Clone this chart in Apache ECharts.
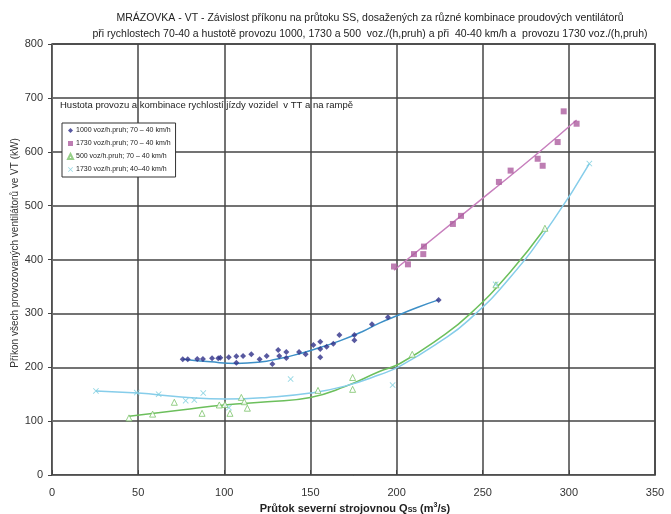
<!DOCTYPE html>
<html>
<head>
<meta charset="utf-8">
<script src="https://cdn.jsdelivr.net/npm/echarts@6/dist/echarts.min.js"></script>
<style>
html,body{margin:0;padding:0;background:#fff;}
#chart{width:671px;height:514px;}
</style>
</head>
<body>
<div id="chart"></div>
<script>
// legend names
var names = ['1000 voz/h.pruh; 70 – 40 km/h', '1730 voz/h.pruh; 70 – 40 km/h', '500 voz/h.pruh; 70 – 40 km/h', '1730 voz/h.pruh; 40–40 km/h'];

// measured points [Q, P]
var pts1000 = [[75.9,214.7],[78.8,214.7],[84.3,215.3],[87.6,215.3],[92.9,216.6],[96.5,216.6],[97.7,217.7],[102.6,218.4],
    [107,220.3],[107,208.4],[110.9,220.9],[115.7,224],[120.5,214.7],[124.6,220.9],[127.9,206],[131.3,232],[131.9,220.9],
    [136,228.3],[136,217.1],[143.4,228.3],[147.2,224],[151.7,241.3],[155.7,247.4],[155.7,233.9],[155.7,218.4],
    [159.4,238.1],[163.3,243.7],[166.8,259.8],[175.5,260],[175.5,250],[185.7,280],[195,293],[224.4,325]];
var pts1730 = [[198.5,387],[206.6,391],[210.1,410],[215.5,410],[215.9,424],[232.7,466],[237.4,481],[259.4,544],
    [266.2,565],[281.9,587],[284.8,574],[293.5,618],[297,675],[304.5,652]];
var pts500 = [[44.7,106],[58.4,113],[71,135],[87.1,114.5],[97.1,130],[100.4,131],[103.3,114.5],[109.9,144],
    [111.6,136],[113.4,124],[154.4,157],[174.5,181],[174.5,159],[209.1,224],[257.7,353],[286.1,458]];
var pts4040 = [[25.5,156],[49.2,153],[61.9,150],[77.6,138],[82.6,139],[87.8,152],[102.7,125],[138.5,178],
    [197.7,167],[257.5,354],[311.9,578]];

// trend lines
var trend1000 = [[76,215],[92,210],[107,207],[122,210],[130,215],[140,222],[152,233],[167,249],[180,266],[190,282],[202,298],[212,311],[224.4,325]];
var trend1730 = [[198.5,380],[254,524],[283,600],[304.5,659]];
var trend500 = [[44.7,109],[75,120.5],[100,130],[125,136],[150,144],[170,164],[190,192],[202,207],[225,254],[243,300],[266,377],[286.1,458]];
var trend4040 = [[25.5,156],[50,152],[75,145],[101,141],[125,144],[150,152],[170,165],[190,186],[202,202],[225,247],[242,288],[266,367],[291,473],[311.9,578]];

var xTicks = [0, 350, 50];
var yTicks = [0, 800, 100];

var chart = echarts.init(document.getElementById('chart'));
var crossPath = 'path://M0,1L1,0L5,4L9,0L10,1L6,5L10,9L9,10L5,6L1,10L0,9L4,5Z';
var fnt = 'Liberation Sans, Arial, sans-serif';

function trendLine(data, color) {
    return {
        type: 'line', data: data, smooth: true, showSymbol: false, silent: true,
        lineStyle: {color: color, width: 1.5}, z: 1
    };
}

var option = {
    animation: false,
    backgroundColor: '#fff',
    textStyle: {fontFamily: fnt},
    title: {
        text: 'MRÁZOVKA - VT - Závislost příkonu na průtoku SS, dosažených za různé kombinace proudových ventilátorů\npři rychlostech 70-40 a hustotě provozu 1000, 1730 a 500  voz./(h,pruh) a při  40-40 km/h a  provozu 1730 voz./(h,pruh)',
        left: 365, top: 5, textAlign: 'center',
        textStyle: {fontSize: 10.5, fontWeight: 'normal', color: '#222', lineHeight: 16, fontFamily: fnt}
    },
    legend: {
        data: names,
        orient: 'vertical',
        left: 62, top: 123,
        backgroundColor: '#fff',
        borderColor: '#333', borderWidth: 1,
        padding: [4, 5, 4, 5],
        itemWidth: 5, itemHeight: 5, itemGap: 6,
        textStyle: {fontSize: 7, color: '#222', fontFamily: fnt, padding: [0, 0, 0, -2]}
    },
    grid: {left: 52, right: 16, top: 44, bottom: 39, show: true, borderColor: '#444', borderWidth: 1.5},
    xAxis: {
        type: 'value', min: xTicks[0], max: xTicks[1], interval: xTicks[2],
        axisLine: {lineStyle: {color: '#666', width: 1}},
        axisTick: {inside: true, length: 5, lineStyle: {color: '#444'}},
        axisLabel: {fontSize: 11, color: '#333', margin: 12},
        splitLine: {lineStyle: {color: '#444', width: 1.5}}
    },
    yAxis: {
        type: 'value', min: yTicks[0], max: yTicks[1], interval: yTicks[2],
        axisLine: {show: true, lineStyle: {color: '#666', width: 1}},
        axisTick: {show: true, length: 4, lineStyle: {color: '#444'}},
        axisLabel: {fontSize: 11, color: '#333', margin: 9},
        splitLine: {lineStyle: {color: '#444', width: 1.5}}
    },
    graphic: [
        {type: 'text', left: 60, top: 100, style: {text: 'Hustota provozu a kombinace rychlostí jízdy vozidel  v TT a na rampě', fontSize: 9.5, fill: '#222', fontFamily: fnt}},
        {type: 'text', x: 15, y: 253, rotation: Math.PI / 2, style: {text: 'Příkon všech provozovaných ventilátorů ve VT (kW)', fontSize: 10, fill: '#333', fontFamily: fnt, align: 'center', verticalAlign: 'middle'}},
        {type: 'text', x: 355, y: 508, style: {
            text: '{b|Průtok severní strojovnou Q}{s|SS}{b| (m}{p|3}{b|/s)}',
            align: 'center', verticalAlign: 'middle',
            rich: {
                b: {fontSize: 11, fontWeight: 'bold', fill: '#222', fontFamily: fnt, verticalAlign: 'bottom'},
                s: {fontSize: 7, fontWeight: 'bold', fill: '#222', fontFamily: fnt, padding: [5, 0, 0, 0]},
                p: {fontSize: 7, fontWeight: 'bold', fill: '#222', fontFamily: fnt, padding: [0, 0, 5, 0]}
            }
        }}
    ],
    series: [
        trendLine(trend1000, '#3d8fc6'),
        trendLine(trend1730, '#c77fbd'),
        trendLine(trend500, '#6cbf5c'),
        trendLine(trend4040, '#86cdea'),
        {name: names[0], type: 'scatter', data: pts1000, symbol: 'diamond', symbolSize: 6, itemStyle: {color: '#2e3088'}, z: 3},
        {name: names[1], type: 'scatter', data: pts1730, symbol: 'rect', symbolSize: 6, itemStyle: {color: '#ad5c9f'}, z: 3},
        {name: names[2], type: 'scatter', data: pts500, symbol: 'triangle', symbolSize: 6, itemStyle: {color: '#fff', borderColor: '#7cc36a', borderWidth: 1}, z: 3},
        {name: names[3], type: 'scatter', data: pts4040, symbol: crossPath, symbolSize: 6, itemStyle: {color: '#79cddd'}, z: 3}
    ]
};
chart.setOption(option);
</script>
</body>
</html>
